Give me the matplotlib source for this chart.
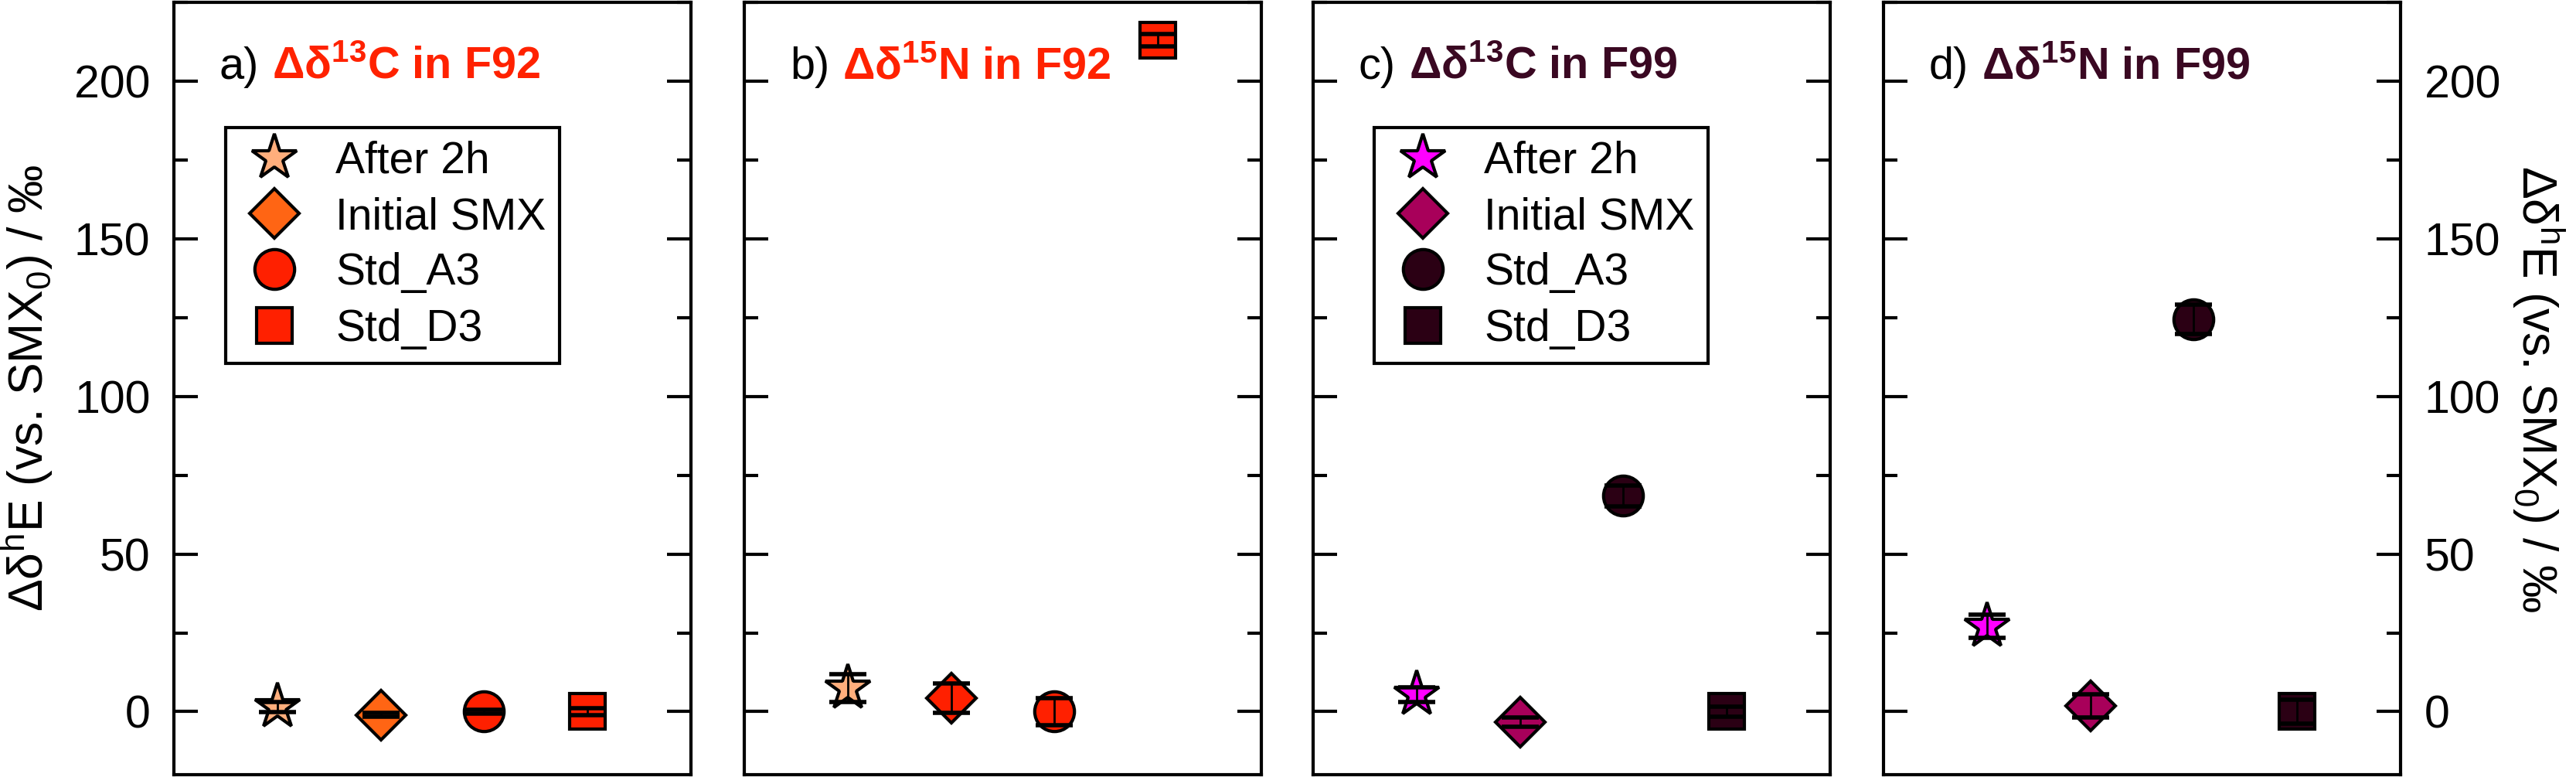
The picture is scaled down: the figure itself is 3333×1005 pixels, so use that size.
import matplotlib
matplotlib.use('Agg')
import matplotlib.pyplot as plt
from matplotlib.ticker import MultipleLocator

plt.rcParams['font.family'] = ['Liberation Sans', 'DejaVu Sans']
plt.rcParams['mathtext.fontset'] = 'custom'
plt.rcParams['mathtext.rm'] = 'Liberation Sans'
plt.rcParams['mathtext.bf'] = 'Liberation Sans:bold'

# samples, x order 1..4
labels = ['After 2h', 'Initial SMX', 'Std_A3', 'Std_D3']
xpos = [1, 2, 3, 4]

# delta values (permil) and errors
a_val = [1.5, -1.0, 0.0, 0.0]
a_err = [1.6, 0.6, 0.6, 1.0]
b_val = [7.5, 4.3, 0.0, 213.0]
b_err = [4.5, 4.7, 4.3, 2.0]
c_val = [5.4, -3.3, 68.5, 0.0]
c_err = [2.4, 1.5, 3.3, 1.7]
d_val = [27.0, 1.8, 124.4, 0.0]
d_err = [3.7, 3.6, 4.7, 3.7]

a_col = ['#FFAE7C', '#FF6514', '#FF2000', '#FF2000']
b_col = ['#FFAE7C', '#FF2000', '#FF2000', '#FF2000']
c_col = ['#FF00FF', '#A8005A', '#2B0014', '#2B0014']
d_col = ['#FF00FF', '#A8005A', '#2B0014', '#2B0014']
title_f92 = '#FF2200'
title_f99 = '#3A0822'

markers = ['*', 'D', 'o', 's']
msizes = [44, 33, 37, 33]

panels = [
    ('a)', r'Δδ$\mathbf{^{13}}$C in F92', a_val, a_err, a_col, title_f92, True),
    ('b)', r'Δδ$\mathbf{^{15}}$N in F92', b_val, b_err, b_col, title_f92, False),
    ('c)', r'Δδ$\mathbf{^{13}}$C in F99', c_val, c_err, c_col, title_f99, True),
    ('d)', r'Δδ$\mathbf{^{15}}$N in F99', d_val, d_err, d_col, title_f99, False),
]

lefts = [225, 963, 1699, 2437]
W, H = 3333, 1005

fig = plt.figure(figsize=(W / 100, H / 100), dpi=100)
ylab = r'Δδ$^{\mathrm{h}}$E (vs. SMX$_{\mathrm{0}}$) / ‰'

for i, (tag, title, vals, errs, cols, tcol, has_leg) in enumerate(panels):
    ax = fig.add_axes([lefts[i] / W, 3 / H, 669 / W, 999 / H])
    for k in range(4):
        ax.plot(xpos[k], vals[k], ls='none', marker=markers[k], ms=msizes[k],
                mfc=cols[k], mec='black', mew=3, label=labels[k], zorder=3)
        ax.errorbar(xpos[k], vals[k], yerr=errs[k], fmt='none', ecolor='black',
                    elinewidth=2, capsize=17, capthick=4, zorder=4)
    ax.set_xlim(0, 5)
    ax.set_ylim(-20, 225)
    ax.set_xticks([])
    ax.yaxis.set_major_locator(MultipleLocator(50))
    ax.yaxis.set_minor_locator(MultipleLocator(25))
    ax.tick_params(axis='y', which='both', direction='in', left=True, right=True,
                   labelleft=(i == 0), labelright=(i == 3), labelsize=42.5,
                   width=3, pad=22)
    ax.tick_params(axis='y', which='major', length=22)
    ax.tick_params(axis='y', which='minor', length=13)
    for s in ax.spines.values():
        s.set_linewidth(3)

    t1 = ax.text(0.088, 0.901, tag, transform=ax.transAxes, fontsize=41.5,
                 va='baseline', ha='left', color='black')
    ax.annotate(title, xy=(1, 0.901), xycoords=(t1, 'axes fraction'),
                xytext=(12, 0), textcoords='offset points', fontsize=41.5,
                fontweight='bold', color=tcol, va='baseline', ha='left')

    if has_leg:
        leg = ax.legend(loc='upper left', bbox_to_anchor=(0.10 if i == 0 else 0.118, 0.838),
                        fontsize=41, frameon=True, fancybox=False, framealpha=1,
                        edgecolor='black', borderaxespad=0, borderpad=0.3,
                        labelspacing=0.32, handlelength=1.6, handletextpad=0.6,
                        numpoints=1)
        leg.get_frame().set_linewidth(3)

    if i == 0:
        ax.set_ylabel(ylab, fontsize=45, labelpad=18)
    if i == 3:
        ax.yaxis.set_label_position('right')
        ax.set_ylabel(ylab, fontsize=45, rotation=270, labelpad=62)

fig.savefig('out.png', dpi=100)
